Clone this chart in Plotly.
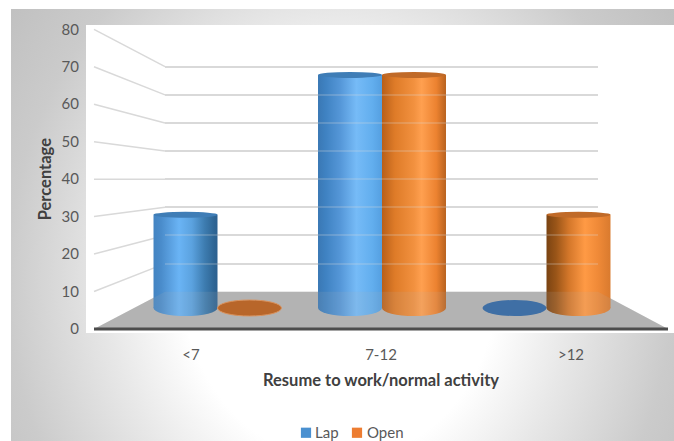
import base64
import json
import plotly.graph_objects as go

# Survey data: share of patients resuming work / normal activity, by week band
categories = ["<7", "7-12", ">12"]
lap_values = [28, 70, 0]
open_values = [0, 70, 28]
y_ticks = [0, 10, 20, 30, 40, 50, 60, 70, 80]

W, H = 674, 441
LAP, OPEN = "#4a90d0", "#ed7d31"
GRID = "#d9d9d9"
FLOOR = "#b4b4b4"
TEXT = "#595959"


def px_x(v):
    return v / W


def px_y(v):
    return 1 - v / H


# Three projected planes of the pseudo-3D box, as pixel rows for values 0 and 80
BACK = dict(x0=165, x1=598, y0=291.7, y80=66.7)
MID = dict(x0=135.25, x1=628.75, y0=308, y80=41.6)
FRONT = dict(x0=96, x1=666, y0=329, y80=29.3)
SIDE_X = 94


def front_row(v):
    return FRONT["y0"] + (FRONT["y80"] - FRONT["y0"]) * v / 80


def back_row(v):
    return BACK["y0"] + (BACK["y80"] - BACK["y0"]) * v / 80


PX_PER_UNIT = (MID["y0"] - MID["y80"]) / 80
BAR_W = 0.389
# The mid plane reaches below zero so the cylinder bases are not clipped
MID_FLOOR = -6
# The back wall runs a little past 80 so its top gridline is still drawn
BACK_TOP = 82

fig = go.Figure()
fig.add_trace(go.Bar(name="Lap", x=categories, y=lap_values, marker=dict(color=LAP, line=dict(width=0)),
                     xaxis="x2", yaxis="y2", width=BAR_W, hoverinfo="skip"))
fig.add_trace(go.Bar(name="Open", x=categories, y=open_values, marker=dict(color=OPEN, line=dict(width=0)),
                     xaxis="x2", yaxis="y2", width=BAR_W, hoverinfo="skip"))
# Empty traces keep the wall and front-axis subplots alive
for xa, ya in [("x", "y"), ("x3", "y3"), ("x4", "y4")]:
    fig.add_trace(go.Scatter(x=[None], y=[None], xaxis=xa, yaxis=ya, mode="lines",
                             showlegend=False, hoverinfo="skip"))

shapes = []
gradient_for_shape = {}


def add_shape(gradient=None, **kw):
    shapes.append(kw)
    if gradient:
        gradient_for_shape[len(shapes) - 1] = gradient


def poly(points):
    return "M" + "L".join(f"{px_x(x)},{px_y(y)}" for x, y in points) + "Z"


# White panel behind the plot
add_shape(type="rect", xref="paper", yref="paper", x0=px_x(86), x1=1, y0=px_y(333), y1=px_y(25),
          fillcolor="white", line_width=0, layer="below")
# Floor of the box
floor_pts = [(BACK["x0"], BACK["y0"]), (BACK["x1"], BACK["y0"]), (668, FRONT["y0"]), (SIDE_X, FRONT["y0"])]
add_shape(type="path", xref="paper", yref="paper", path=poly(floor_pts), fillcolor=FLOOR, line_width=0, layer="below")
# Side wall gridlines run from the front axis to the back wall
for t in y_ticks[1:]:
    add_shape(type="line", xref="paper", yref="paper", x0=px_x(SIDE_X), x1=px_x(BACK["x0"]),
              y0=px_y(front_row(t)), y1=px_y(back_row(t)), line=dict(color=GRID, width=1.5), layer="below")
# Faint panel behind the legend
add_shape(type="rect", xref="paper", yref="paper", x0=px_x(288), x1=px_x(412), y0=0, y1=px_y(418),
          fillcolor="rgba(255,255,255,0.55)", line_width=0, layer="below")


def ellipse(i, offset, value, half_px, fill, gradient=None, layer="above", line=None):
    half = half_px / PX_PER_UNIT
    add_shape(gradient=gradient, type="circle", xref="x2", yref="y2",
              x0=i + offset - BAR_W / 2, x1=i + offset + BAR_W / 2, y0=value - half, y1=value + half,
              fillcolor=fill, line=line or dict(width=0), layer=layer)


# Cylinder bases sit under the bars and share their shading
for s, (vals, off) in enumerate([(lap_values, -BAR_W / 2), (open_values, BAR_W / 2)]):
    for i, v in enumerate(vals):
        if v > 0:
            ellipse(i, off, 0, 8, LAP if s == 0 else OPEN, gradient=f"g{s}{i}", layer="below")

# Translucent veil of the floor over the foot of the cylinders
add_shape(type="path", xref="paper", yref="paper", path=poly(floor_pts), fillcolor=FLOOR,
          opacity=0.14, line_width=0, layer="above")

# Cylinder caps, and flat discs where a series is zero
for s, (vals, off) in enumerate([(lap_values, -BAR_W / 2), (open_values, BAR_W / 2)]):
    for i, v in enumerate(vals):
        if v > 0:
            ellipse(i, off, v, 3, "#3f7db6" if s == 0 else "#c06a28")
        elif s == 0:
            ellipse(i, off, 0, 8, "#3f6fa5")
        else:
            ellipse(i, off, 0, 8, "#b8662a", line=dict(color="#d9935f", width=1))

# Front edge of the floor
add_shape(type="line", xref="paper", yref="paper", x0=px_x(SIDE_X), x1=px_x(668), y0=px_y(FRONT["y0"]),
          y1=px_y(FRONT["y0"]), line=dict(color="#4d4d4d", width=3), layer="above")

background_svg = """<svg xmlns="http://www.w3.org/2000/svg" width="663" height="432" viewBox="11 9 663 432">
<defs><radialGradient id="b" gradientUnits="userSpaceOnUse" cx="0" cy="0" r="1.25"
 gradientTransform="translate(340 280) scale(350 400)">
<stop offset="0" stop-color="#ffffff"/><stop offset="0.36" stop-color="#ffffff"/>
<stop offset="0.53" stop-color="#e8e8e8"/><stop offset="0.76" stop-color="#cbcbcb"/>
<stop offset="1" stop-color="#bcbcbc"/></radialGradient></defs>
<rect x="11" y="9" width="663" height="432" fill="url(#b)"/></svg>"""
background_uri = "data:image/svg+xml;base64," + base64.b64encode(background_svg.encode()).decode()


def hidden_axis(domain, **kw):
    return dict(domain=domain, showgrid=False, showline=False, zeroline=False, showticklabels=False,
                ticks="", **kw)


font_family = "Lato, 'Open Sans', sans-serif"
back_domain_y = [px_y(BACK["y0"]), px_y(back_row(BACK_TOP))]
back_domain_x = [px_x(BACK["x0"]), px_x(BACK["x1"])]
inner_ticks = y_ticks[1:]

fig.update_layout(
    width=W, height=H, margin=dict(l=0, r=0, t=0, b=0, autoexpand=False),
    paper_bgcolor="white", plot_bgcolor="rgba(0,0,0,0)",
    barmode="group", bargap=0.222, bargroupgap=0,
    font=dict(family=font_family, size=14, color=TEXT),
    images=[dict(source=background_uri, xref="paper", yref="paper", x=px_x(11), y=px_y(9),
                 sizex=1 - px_x(11), sizey=px_y(9), xanchor="left", yanchor="top",
                 sizing="stretch", layer="below")],
    shapes=shapes,
    showlegend=True,
    # Held inside the page while drawing; moved to the foot afterwards
    legend=dict(orientation="h", x=px_x(296), y=0.3, xanchor="left", yanchor="bottom",
                bgcolor="rgba(0,0,0,0)", font=dict(size=15, color=TEXT), traceorder="normal"),
    # Back wall gridlines
    xaxis=hidden_axis(back_domain_x, range=[0, 1], anchor="y"),
    yaxis=dict(domain=back_domain_y, range=[0, BACK_TOP], anchor="x", tickvals=inner_ticks, showgrid=True,
               gridcolor=GRID, gridwidth=2, showticklabels=False, ticks="", zeroline=False, showline=False),
    # Bars live on the mid-depth plane
    xaxis2=hidden_axis([px_x(MID["x0"]), px_x(MID["x1"])], type="category", categoryorder="array",
                       categoryarray=categories, range=[-0.5, 2.5], anchor="y2"),
    yaxis2=hidden_axis([px_y(MID["y0"] - MID_FLOOR * PX_PER_UNIT), px_y(MID["y80"])],
                       range=[MID_FLOOR, 80], anchor="x2"),
    # Visible axes on the front plane
    xaxis3=dict(domain=[px_x(FRONT["x0"]), px_x(FRONT["x1"])], type="category", categoryorder="array",
                categoryarray=categories, range=[-0.5, 2.5], anchor="y3", showgrid=False, zeroline=False,
                showline=False, ticks="outside", ticklen=12, tickcolor="rgba(0,0,0,0)",
                tickfont=dict(size=15, color=TEXT),
                title=dict(text="<b>Resume to work/normal activity</b>", standoff=12,
                           font=dict(size=16.5, color="#404040"))),
    yaxis3=dict(domain=[px_y(FRONT["y0"]), px_y(FRONT["y80"])], range=[0, 80], anchor="x3", tickvals=y_ticks,
                showgrid=False, zeroline=False, showline=False, ticks="outside", ticklen=13,
                tickcolor="rgba(0,0,0,0)", tickfont=dict(size=15, color=TEXT),
                title=dict(text="<b>Percentage</b>", standoff=5, font=dict(size=16.5, color="#404040"))),
    # Wall gridlines ghost faintly through the translucent cylinders
    xaxis4=hidden_axis(back_domain_x, range=[0, 1], anchor="y4"),
    yaxis4=dict(domain=back_domain_y, range=[0, BACK_TOP], anchor="x4", tickvals=inner_ticks, showgrid=True,
                gridcolor="rgba(217,217,217,0.22)", gridwidth=2, showticklabels=False, ticks="",
                zeroline=False, showline=False),
)

# Horizontal shading across each cylinder, keyed by series and category
gradients = {
    "g00": [(0, "#4384c2"), (.12, "#4a8ccb"), (.4, "#6ab4f5"), (.6, "#5ba2df"), (.8, "#3d7cb0"), (.95, "#2e6594"), (1, "#2c6090")],
    "g01": [(0, "#3a78b4"), (.12, "#3f82c2"), (.35, "#5597d8"), (.6, "#76bbf7"), (.85, "#62aeee"), (1, "#559fe0")],
    "g11": [(0, "#b85f1a"), (.2, "#de7b28"), (.5, "#f2913f"), (.62, "#ffa050"), (.85, "#ec8230"), (1, "#b8621f")],
    "g12": [(0, "#7a4312"), (.15, "#9a5518"), (.35, "#d4772a"), (.6, "#ff9a45"), (.8, "#f08a38"), (1, "#d97a2e")],
}

# Legend entries sit tight: swatch directly beside its label
legend_layout = [dict(swatch=306, text=315), dict(swatch=357, text=367)]
LEGEND_MID_ROW = 432

post_script = """
var gd = document.querySelector('.js-plotly-plot');
var grads = %s, shapeGrads = %s, legendLayout = %s, legendRow = %s;
var defs = '<defs>';
Object.keys(grads).forEach(function (id) {
  defs += '<linearGradient id="' + id + '" x1="0" x2="1" y1="0" y2="0">';
  grads[id].forEach(function (s) { defs += '<stop offset="' + s[0] + '" stop-color="' + s[1] + '"/>'; });
  defs += '</linearGradient>';
});
gd.querySelector('svg.main-svg').insertAdjacentHTML('afterbegin', defs + '</defs>');
gd.querySelectorAll('.barlayer .trace').forEach(function (tr, s) {
  tr.querySelectorAll('.point path').forEach(function (p, i) {
    var id = 'g' + s + i;
    if (grads[id]) { p.style.fill = 'url(#' + id + ')'; }
  });
});
Object.keys(shapeGrads).forEach(function (idx) {
  gd.querySelectorAll('.shapelayer path[data-index="' + idx + '"]').forEach(function (p) {
    p.style.fill = 'url(#' + shapeGrads[idx] + ')';
  });
});
var legend = gd.querySelector('.legend');
var lx = parseFloat(legend.getAttribute('transform').match(/translate\\(([-0-9.]+)/)[1]);
var lh = legend.querySelector('.bg').getBoundingClientRect().height;
legend.setAttribute('transform', 'translate(' + lx + ',' + (legendRow - lh / 2) + ')');
legend.querySelectorAll('.traces').forEach(function (tr, i) {
  var spec = legendLayout[i];
  var old = tr.getAttribute('transform').match(/translate\\(([-0-9.]+),\\s*([-0-9.]+)/);
  tr.setAttribute('transform', 'translate(0,' + old[2] + ')');
  tr.querySelector('text.legendtext').setAttribute('x', spec.text - lx);
  var bar = tr.querySelector('.legendpoints path, .legendbar path') || tr.querySelector('.layers path');
  bar.setAttribute('transform', 'translate(' + (spec.swatch - lx) + ',1) scale(0.85)');
  var toggle = tr.querySelector('.legendtoggle');
  if (toggle) { toggle.setAttribute('x', spec.swatch - lx - 6); }
});
legend.querySelectorAll('.scrollbox, .legend > g').forEach(function (g) { g.removeAttribute('clip-path'); });
""" % (json.dumps(gradients), json.dumps(gradient_for_shape), json.dumps(legend_layout), LEGEND_MID_ROW)

fig.write_html("out.html", post_script=post_script, config=dict(displayModeBar=False))
